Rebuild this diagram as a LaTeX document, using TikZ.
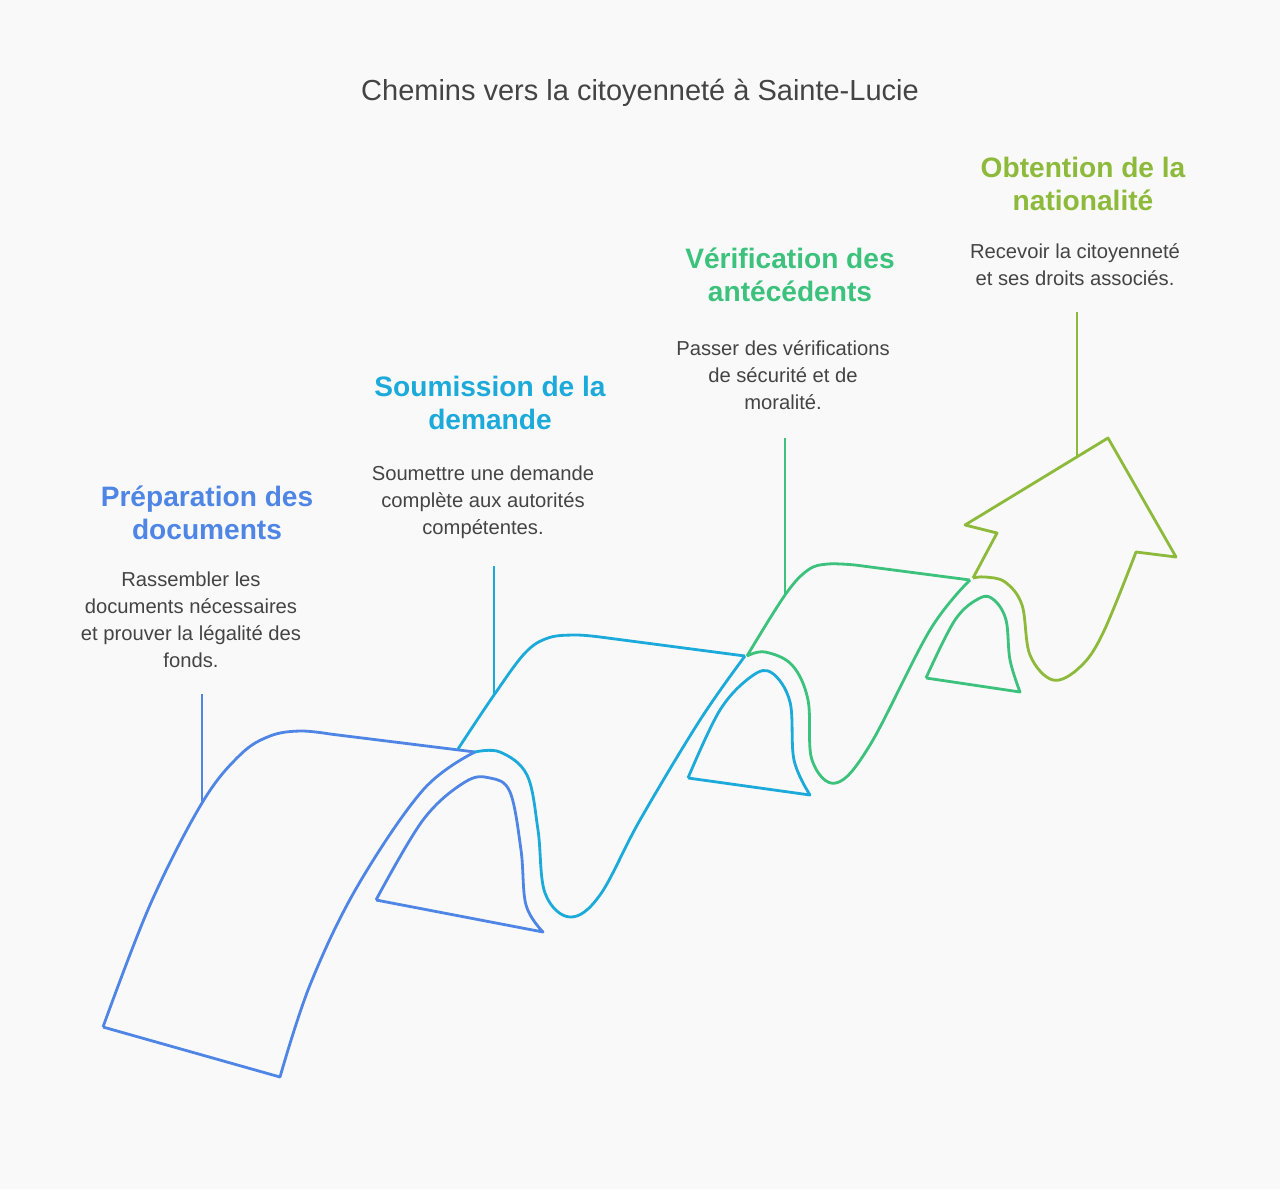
\documentclass[tikz,border=0pt]{standalone}
\usepackage{fontspec}
\setmainfont{Liberation Sans}
\usetikzlibrary{positioning}
\definecolor{bgcol}{RGB}{249,249,249}
\definecolor{txtcol}{RGB}{68,68,68}
\definecolor{blue1}{RGB}{79,134,230}
\definecolor{teal1}{RGB}{28,170,218}
\definecolor{green1}{RGB}{60,194,124}
\definecolor{lime1}{RGB}{141,186,58}
\tikzset{
 ribbon/.style={line width=1.6pt,line join=round},
 pin/.style={line width=1.6pt},
 head/.style={font=\fontsize{16}{19}\selectfont\bfseries,align=center},
 body/.style={font=\fontsize{11.5}{15.3}\selectfont,text=txtcol,align=center}
}
\begin{document}
\begin{tikzpicture}[x=0.02cm,y=-0.02cm]
 \fill[bgcol] (0,0) rectangle (1280,1189);
 \useasboundingbox (0,0) rectangle (1280,1189);

 \node[font=\fontsize{16.5}{19}\selectfont,text=txtcol] (title) at (640,93) {Chemins vers la citoyenneté à Sainte-Lucie};

 % step 1
 \node[head,text=blue1] (h1) at (207,513) {Préparation des\\documents};
 \node[body] (b1) at (191,620) {Rassembler les\\documents nécessaires\\et prouver la légalité des\\fonds.};
 % step 2
 \node[head,text=teal1] (h2) at (490,403) {Soumission de la\\demande};
 \node[body] (b2) at (483,502) {Soumettre une demande\\complète aux autorités\\compétentes.};
 % step 3
 \node[head,text=green1] (h3) at (790,275) {Vérification des\\antécédents};
 \node[body] (b3) at (783,375) {Passer des vérifications\\de sécurité et de\\moralité.};
 % step 4
 \node[head,text=lime1] (h4) at (1083,184) {Obtention de la\\nationalité};
 \node[body] (b4) at (1075,265) {Recevoir la citoyenneté\\et ses droits associés.};

 % pins
 \coordinate (p1a) at (202,694); \coordinate (p1b) at (202,803);
 \coordinate (p2a) at (494,566); \coordinate (p2b) at (494,695);
 \coordinate (p3a) at (785,438); \coordinate (p3b) at (785,595);
 \coordinate (p4a) at (1077,312); \coordinate (p4b) at (1077,456);
 \draw[pin,blue1] (p1a) -- (p1b);
 \draw[pin,teal1] (p2a) -- (p2b);
 \draw[pin,green1] (p3a) -- (p3b);
 \draw[pin,lime1] (p4a) -- (p4b);

 % ribbon 1
 \draw[ribbon,blue1] plot[smooth,tension=0.6] coordinates {(103,1027) (150,905) (202,803) (240,755) (270,736) (300,731) (330,734)}
   -- plot[smooth,tension=0.6] coordinates {(475,752) (423,790) (357,887) (310,985) (280,1077)} -- (103,1027);
 \draw[ribbon,blue1] plot[smooth,tension=0.6] coordinates {(376,900) (423,820) (465,782) (490,778) (510,792) (521,850) (526,905) (543,932)} -- (376,900);

 % ribbon 2
 \draw[ribbon,teal1] plot[smooth,tension=0.6] coordinates {(458,749) (494,695) (525,653) (548,638) (575,635) (600,637)}
   -- (745,656);
 \draw[ribbon,teal1] plot[smooth,tension=0.6] coordinates {(475,752) (500,752) (527,775) (538,830) (545,893) (570,917) (600,895) (640,820) (700,720) (745,656)};
 \draw[ribbon,teal1] plot[smooth,tension=0.6] coordinates {(688,778) (720,710) (752,676) (772,673) (790,702) (794,760) (810,795)} -- (688,778);

 % ribbon 3
 \draw[ribbon,green1] plot[smooth,tension=0.6] coordinates {(747,656) (785,595) (808,570) (828,564) (855,565)}
   -- (970,580);
 \draw[ribbon,green1] plot[smooth,tension=0.6] coordinates {(747,656) (765,652) (792,665) (808,700) (812,760) (836,783) (870,745) (930,630) (970,580)};
 \draw[ribbon,green1] plot[smooth,tension=0.6] coordinates {(926,678) (955,620) (980,598) (994,600) (1006,620) (1010,660) (1020,692)} -- (926,678);

 % arrow
 \draw[ribbon,lime1] (973,578) -- (997,533) -- (965,525) -- (1108,438) -- (1176,557) -- (1136,552)
   -- plot[smooth,tension=0.6] coordinates {(1136,552) (1103,633) (1080,667) (1053,680) (1030,655) (1022,605) (1005,582) (985,577) (973,578)};
\end{tikzpicture}
\end{document}
